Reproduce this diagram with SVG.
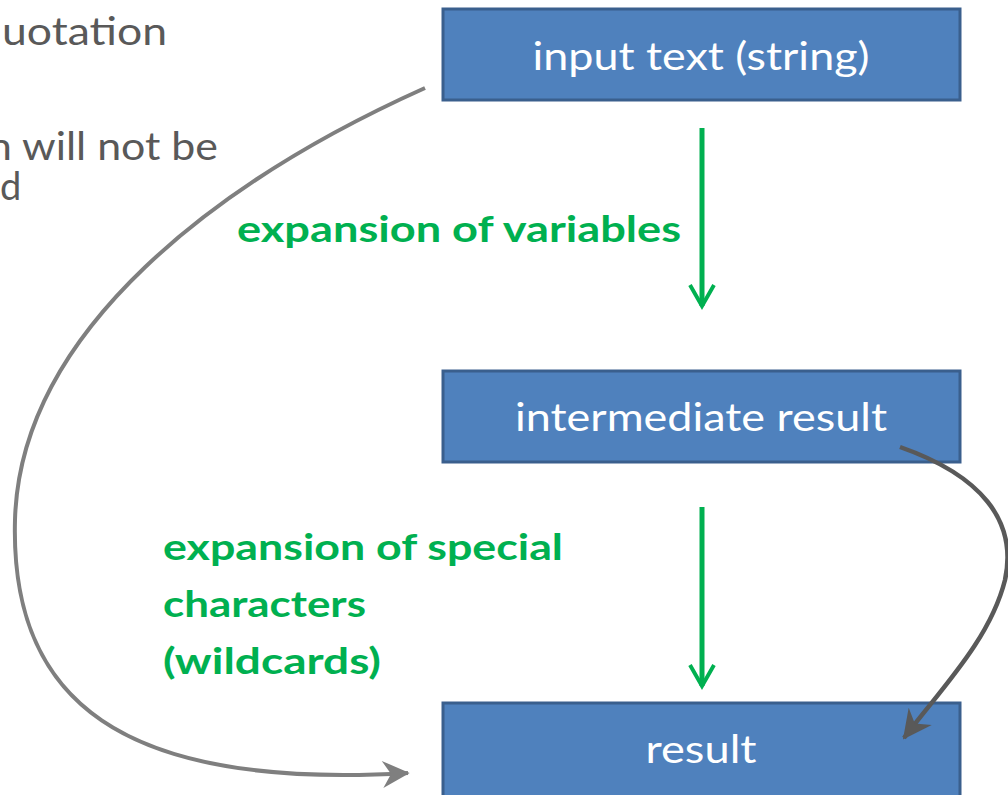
<svg xmlns="http://www.w3.org/2000/svg" width="1008" height="795" viewBox="0 0 1008 795">
  <defs>
    <style>
      .box { fill: #4f81bd; stroke: #3a5f8d; stroke-width: 3; }
      .boxtxt { font-family: Lato, "Open Sans", "Liberation Sans", sans-serif; font-size: 38px; fill: #ffffff; text-anchor: middle; }
      .note { font-family: Lato, "Open Sans", "Liberation Sans", sans-serif; font-size: 38px; fill: #595959; }
      .step { font-family: Lato, "Open Sans", "Liberation Sans", sans-serif; font-size: 37px; font-weight: bold; fill: #00b050; }
      .flow { stroke: #00b050; stroke-width: 5; fill: none; }
      .skip { stroke: #7f7f7f; stroke-width: 4; fill: none; }
      .glob { stroke: #595959; stroke-width: 4.5; fill: none; }
    </style>
    <marker id="headGreen" viewBox="0 0 20 20" refX="16" refY="10" markerWidth="6" markerHeight="6" markerUnits="strokeWidth" orient="auto">
      <path d="M2 2 L16 10 L2 18" fill="none" stroke="#00b050" stroke-width="2.6"/>
    </marker>
    <marker id="headGray" viewBox="0 0 20 20" refX="17" refY="10" markerWidth="8.5" markerHeight="8.5" markerUnits="strokeWidth" orient="auto">
      <path d="M2 2 L18 10 L2 18 L7 10 Z" fill="#7f7f7f"/>
    </marker>
    <marker id="headDark" viewBox="0 0 20 20" refX="17" refY="10" markerWidth="8" markerHeight="8" markerUnits="strokeWidth" orient="auto">
      <path d="M2 2 L18 10 L2 18 L7 10 Z" fill="#595959"/>
    </marker>
  </defs>

  <rect width="1008" height="795" fill="#ffffff"/>

  <!-- side note, running in from the left edge -->
  <g id="note">
    <text class="note" x="167" y="45" text-anchor="end" textLength="165" lengthAdjust="spacingAndGlyphs">uotation</text>
    <text class="note" x="218" y="160" text-anchor="end" textLength="230" lengthAdjust="spacingAndGlyphs">n will not be</text>
    <text class="note" x="0" y="200">d</text>
  </g>

  <g id="input">
    <rect class="box" x="443" y="9" width="517" height="91"/>
    <text class="boxtxt" x="701" y="70" textLength="337" lengthAdjust="spacingAndGlyphs">input text (string)</text>
  </g>

  <g id="intermediate">
    <rect class="box" x="443" y="371" width="517" height="91"/>
    <text class="boxtxt" x="701" y="431" textLength="372" lengthAdjust="spacingAndGlyphs">intermediate result</text>
  </g>

  <g id="result">
    <rect class="box" x="443" y="703" width="517" height="100"/>
    <text class="boxtxt" x="701" y="763" textLength="111" lengthAdjust="spacingAndGlyphs">result</text>
  </g>

  <g id="labels">
    <text class="step" x="237" y="242" textLength="444" lengthAdjust="spacingAndGlyphs">expansion of variables</text>
    <text class="step" x="163" y="560" textLength="400" lengthAdjust="spacingAndGlyphs">expansion of special</text>
    <text class="step" x="163" y="617" textLength="203" lengthAdjust="spacingAndGlyphs">characters</text>
    <text class="step" x="163" y="674" textLength="218" lengthAdjust="spacingAndGlyphs">(wildcards)</text>
  </g>

  <g id="connectors">
    <line class="flow" x1="702" y1="128" x2="702" y2="306" marker-end="url(#headGreen)"/>
    <line class="flow" x1="702" y1="507" x2="702" y2="686" marker-end="url(#headGreen)"/>
    <path class="skip" d="M425 88 C220 180 20 330 15 520 C10 700 120 790 408 773" marker-end="url(#headGray)"/>
    <path class="glob" d="M900 447 C980 475 1018 520 1005 580 C990 640 940 690 904 738" marker-end="url(#headDark)"/>
  </g>
</svg>
